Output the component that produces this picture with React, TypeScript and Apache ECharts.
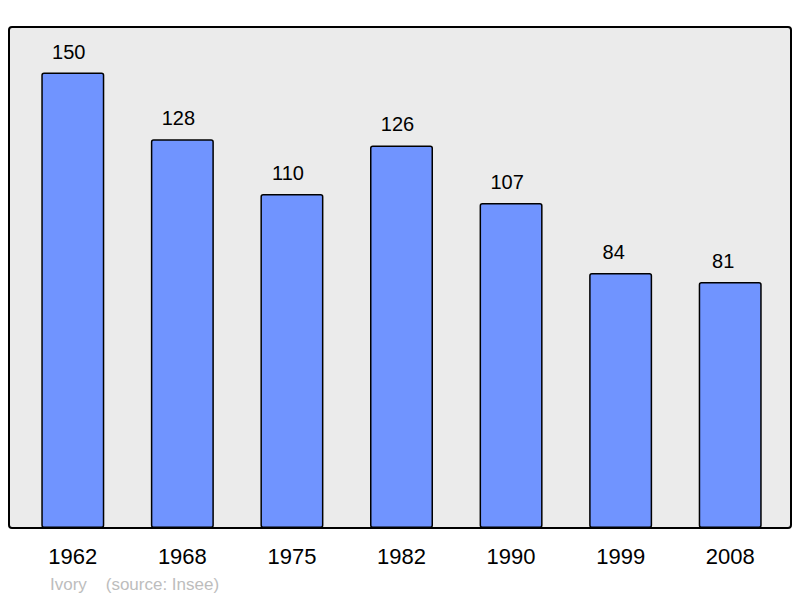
import React, { useEffect, useRef } from "react";
import * as echarts from "echarts";

const years = ["1962", "1968", "1975", "1982", "1990", "1999", "2008"];
const population = [150, 128, 110, 126, 107, 84, 81];
const footerText = "Ivory    (source: Insee)";

const FONT = "Liberation Sans, Arial, sans-serif";

export default function App() {
  const ref = useRef<HTMLDivElement>(null);
  useEffect(() => {
    const chart = echarts.init(ref.current!, null, { renderer: "svg" });
    const data = population.map((v) => ({
      value: v,
      label: { offset: [String(v).length >= 3 ? -4 : -7, 0] },
    }));
    chart.setOption({
      animation: false,
      graphic: [
        {
          type: "rect",
          z: 0,
          shape: { x: 9, y: 27, width: 782, height: 501, r: 3 },
          style: { fill: "#ebebeb", stroke: "#000", lineWidth: 2 },
        },
        {
          type: "text",
          left: 50,
          top: 576,
          style: {
            text: footerText,
            fill: "#bdbdbd",
            fontSize: 17,
            fontFamily: FONT,
          },
        },
      ],
      grid: { left: 18, right: 15, top: 27, bottom: 70, containLabel: false },
      xAxis: {
        type: "category",
        data: years,
        axisLine: { show: false },
        axisTick: { show: false },
        axisLabel: {
          color: "#000",
          fontSize: 22,
          margin: 17,
          fontFamily: FONT,
        },
      },
      yAxis: {
        type: "value",
        min: 0,
        max: 165,
        show: false,
        splitLine: { show: false },
      },
      series: [
        {
          type: "bar",
          data,
          barWidth: 63,
          itemStyle: {
            color: "#7094ff",
            borderColor: "#000",
            borderWidth: 1.5,
            borderRadius: 2,
          },
          label: {
            show: true,
            position: "top",
            distance: 11,
            color: "#000",
            fontSize: 20,
            fontFamily: FONT,
          },
        },
      ],
    });
    return () => chart.dispose();
  }, []);
  return <div ref={ref} style={{ width: 800, height: 598, position: "absolute", left: 0, top: 0 }} />;
}
